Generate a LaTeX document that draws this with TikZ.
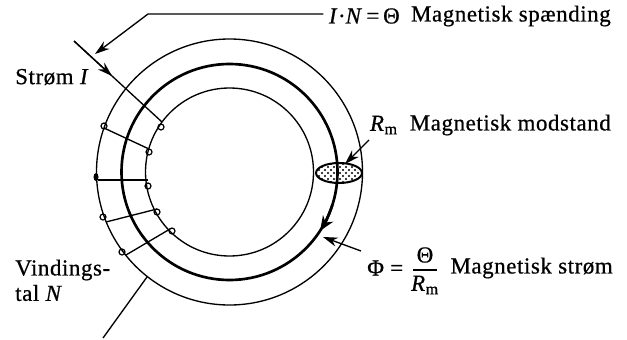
\documentclass[tikz,border=0pt]{standalone}
\usepackage{amsmath}
\usepackage{fontspec}
\setmainfont{Liberation Serif}[LetterSpace=2.5,FakeBold=0.6]
\usetikzlibrary{arrows.meta}
\begin{document}
\begin{tikzpicture}[x=0.75pt,y=-0.75pt,>={Stealth[length=11pt,width=7pt]},
    every node/.style={font=\fontsize{17.2}{20}\selectfont,inner sep=0pt},
    ring/.style={line width=1pt},
    turn/.style={line width=1pt},
    eyelet/.style={line width=0.9pt,radius=3}]
  \useasboundingbox (0,0) rectangle (627,339);
  % core rings
  \coordinate (Mid) at (229.5,172);
  \draw[ring] (Mid) circle[radius=133];
  \draw[ring] (Mid) circle[radius=84];
  % air gap
  \begin{scope}
    \clip (339,173) ellipse[x radius=23,y radius=10];
    \fill[white] (316,163) rectangle (362,183);
    \foreach \dotx in {316,322,...,362}
      \foreach \doty in {161,167,...,185}
        {\fill (\dotx,\doty) circle[radius=1.1]; \fill (\dotx+3,\doty+3) circle[radius=1.1];}
  \end{scope}
  \draw[line width=1.5pt] (339,173) ellipse[x radius=23,y radius=10];
  \draw[ring,line width=2pt] (Mid) circle[radius=108];
  % winding
  \draw[turn] (74,41) -- (162,122);
  \draw[->,turn] (74,41) -- (112,76);
  \draw[turn] (104,128) -- (149,149);
  \draw[turn] (98,180) -- (148,180);
  \draw[turn] (106,222) -- (157,209);
  \draw[turn] (126,255) -- (170,229);
  \foreach \px/\py in {161/127,104/126,149/152,148/186,103/217,157/212,122/252,172/231}
    {\draw[eyelet] (\px,\py) circle;}
  \fill (96,177) ellipse[x radius=2.5,y radius=4];
  \coordinate (LeadEnd) at (103,338); \coordinate (LeadTop) at (147,277);
  \draw[turn] (LeadTop) -- (LeadEnd);
  % labels
  \node[anchor=east] (spaend) at (611,16) {Magnetisk spænding};
  \node[anchor=east] (theta) at (400,16) {\textit{I}·\textit{N}\,=\,Θ};
  \node[anchor=west] (strom) at (15,77) {Strøm \textit{I}};
  \node[anchor=east] (modst) at (611,125) {Magnetisk modstand};
  \node[anchor=east] (rm) at (398,125) {\textit{R}$_{\mathrm{m}}$};
  \node[anchor=west] (phi) at (367,268) {Φ =};
  \node (num) at (425,255) {Θ};
  \node (den) at (425,285) {\textit{R}$_{\mathrm{m}}$};
  \node[anchor=east] (strm) at (613,268) {Magnetisk strøm};
  \node[anchor=west] (vind) at (15,270) {Vindings-};
  \node[anchor=west] (tal) at (15,293) {tal \textit{N}};
  \draw[line width=0.9pt] (413,270) -- (437,270);
  % pointers
  \coordinate (Bend) at (148,14); \coordinate (ThetaTip) at (95,54);
  \draw[->,turn] ([xshift=-4]theta.west |- Bend) -- (Bend) -- (ThetaTip);
  \coordinate (RmStart) at (369,140); \coordinate (RmTip) at (345,164);
  \draw[->,turn] (RmStart) -- (RmTip);
  \coordinate (PhiStart) at (361,251); \coordinate (PhiTip) at (323,237);
  \draw[->,turn] (PhiStart) -- (PhiTip);
  % flux direction
  \draw[-{Stealth[length=11pt,width=9pt]},line width=2pt] (Mid) ++(18:108) arc[start angle=18,end angle=33,radius=108];
\end{tikzpicture}
\end{document}
